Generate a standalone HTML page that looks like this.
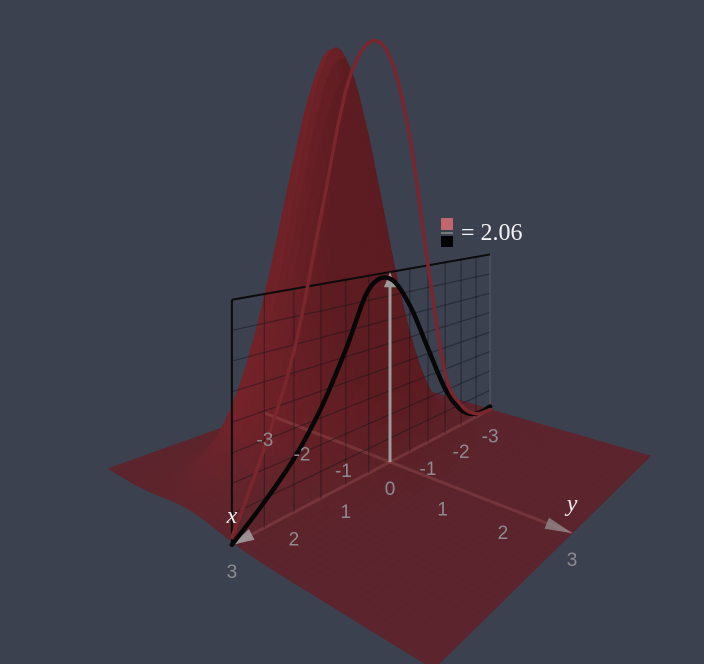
<!DOCTYPE html>
<html><head><meta charset="utf-8"><style>
html,body{margin:0;padding:0;background:#3c4150;}
#wrap{position:relative;width:704px;height:664px;overflow:hidden;background:#3c4150;}
svg{position:absolute;left:0;top:0;}
.tick{font-family:"Liberation Sans",sans-serif;font-size:19px;fill:#8c8c90;text-anchor:middle;}
.axname{font-family:"Liberation Serif",serif;font-style:italic;font-size:24px;fill:#eeeeee;text-anchor:middle;}
</style></head><body>
<div id="wrap">
<svg id="chart" width="704" height="664" viewBox="0 0 704 664">
  <g id="surface"></g>
  <g id="axes"></g>
  <g id="plane"></g>
  <g id="curves"></g>
  <g id="labels"></g>
  <g>
    <rect x="441" y="218" width="12" height="12" fill="#c0686e"/>
    <line x1="441" y1="233" x2="453" y2="233" stroke="#8a8a8a" stroke-width="1.5"/>
    <rect x="441" y="236" width="12" height="11" fill="#000"/>
    <text x="461" y="240" font-family="Liberation Serif, serif" font-size="24" fill="#f2f2f2">= 2.06</text>
  </g>
</svg>
</div>
<script>
// ---- data ----
const curveX = [3, 2.5, 2, 1.5, 1, 0.5, 0, -0.5, -1, -1.5, -2, -2.5, -3];
const blackZ = [0, 0.11, 0.24, 0.42, 0.66, 0.93, 0.965, 0.80, 0.53, 0.26, 0.09, 0.02, 0.02];
const redZ   = [0.03, 0.34, 0.72, 1.32, 1.92, 2.18, 2.13, 1.72, 1.0, 0.35, 0.12, 0.02, 0];
const xTicks = [3, 2, 1, -1, -2, -3];
const yTicks = [3, 2, 1, -1, -2, -3];
const surfPeak = 2.2, surfX0 = 0.3, surfY0 = -0.9, surfSX = 0.95, surfSY = 0.6;

// ---- projection ----
const AX=-70.07, AY=25.3, CX=-0.0749, CY=-0.0619, BX=-13.2, BY=-9.3, ZS=190, OX=390, OY=462;
function P(x,y,z){const w=1+CX*x+CY*y;return [(OX+AX*x+AY*y)/w,(OY+BX*x+BY*y-ZS*z)/w];}
function depth(x,y){return 1+CX*x+CY*y;}
const NS='http://www.w3.org/2000/svg';
function mk(tag,attrs,parent){const e=document.createElementNS(NS,tag);for(const k in attrs)e.setAttribute(k,attrs[k]);parent.appendChild(e);return e;}

// ---- surface ----
function f(x,y){return surfPeak*Math.exp(-((x-surfX0)**2)/(2*surfSX*surfSX)-((y-surfY0)**2)/(2*surfSY*surfSY));}
const surf=document.getElementById('surface');
const N=56, quads=[];
for(let i=0;i<N;i++)for(let j=0;j<N;j++){
  const x0=-3+6*i/N,x1=-3+6*(i+1)/N,y0=-3+6*j/N,y1=-3+6*(j+1)/N;
  const zc=f((x0+x1)/2,(y0+y1)/2);
  const dzx=(f(x1,(y0+y1)/2)-f(x0,(y0+y1)/2))/(x1-x0);
  const dzy=(f((x0+x1)/2,y1)-f((x0+x1)/2,y0))/(y1-y0);
  quads.push({x0,x1,y0,y1,zc,dzx,dzy,d:depth((x0+x1)/2,(y0+y1)/2)});
}
quads.sort((a,b)=>b.d-a.d);
const L=[0.45,-0.35,1];const Ln=Math.hypot(...L);
for(const q of quads){
  const pts=[P(q.x0,q.y0,f(q.x0,q.y0)),P(q.x1,q.y0,f(q.x1,q.y0)),P(q.x1,q.y1,f(q.x1,q.y1)),P(q.x0,q.y1,f(q.x0,q.y1))];
  const n=[-q.dzx,-q.dzy,1];const nn=Math.hypot(...n);
  const dot=(n[0]*L[0]+n[1]*L[1]+n[2]*L[2])/(nn*Ln);
  const flat=1/Ln;
  const t=Math.min(1,q.zc/0.35);
  let r=92+(112-92)*t,g=36+(34-36)*t,b=44+(40-44)*t;
  let s=1+0.3*(dot-flat);
  s=Math.max(0.82,Math.min(1.18,s));
  r=Math.round(Math.min(255,r*s));g=Math.round(g*s);b=Math.round(b*s);
  const c=`rgb(${r},${g},${b})`;
  const p=mk('polygon',{points:pts.map(p=>p[0].toFixed(1)+','+p[1].toFixed(1)).join(' '),fill:c,stroke:c,'stroke-width':'0.6'},surf);
  
  
}

// ---- ground axes ----
const axes=document.getElementById('axes');
function line3(a,b,attrs,parent,name){const p=P(...a),q=P(...b);const e=mk('line',Object.assign({x1:p[0],y1:p[1],x2:q[0],y2:q[1]},attrs),parent);return e;}
line3([3,0,0],[-3,0,0],{stroke:'rgba(200,120,120,0.22)','stroke-width':3},axes,'x-axis-line');
line3([0,-3,0],[0,3,0],{stroke:'rgba(200,120,120,0.22)','stroke-width':3},axes,'y-axis-line');
function arrow(tip,dir,len,parent,name,color){
  const p=P(...tip),b=P(tip[0]-dir[0]*len,tip[1]-dir[1]*len,tip[2]-dir[2]*len);
  const dx=p[0]-b[0],dy=p[1]-b[1],l=Math.hypot(dx,dy),nx=-dy/l*6,ny=dx/l*6;
  const e=mk('polygon',{points:`${p[0]},${p[1]} ${b[0]+nx},${b[1]+ny} ${b[0]-nx},${b[1]-ny}`,fill:color},parent);
  
}
arrow([3,0,0],[1,0,0],0.3,axes,'x-axis-arrow','rgba(170,170,170,0.8)');
arrow([0,3,0],[0,1,0],0.35,axes,'y-axis-arrow','rgba(150,150,150,0.7)');

// ---- slice plane (y=0) ----
const plane=document.getElementById('plane');
for(let k=1;k<12;k++){const x=3-k*0.5;line3([x,0,0],[x,0,1],{stroke:'rgba(20,20,25,0.45)','stroke-width':1.2},plane,'plane-grid-vertical');}
for(let k=1;k<8;k++){const z=k*0.125;line3([3,0,z],[-3,0,z],{stroke:'rgba(20,20,25,0.45)','stroke-width':1.2},plane,'plane-grid-horizontal');}
line3([-3,0,0],[-3,0,1],{stroke:'rgba(90,90,95,0.7)','stroke-width':1.5},plane,'plane-right-edge');
line3([3,0,0],[3,0,1],{stroke:'#0b0b0b','stroke-width':2},plane,'plane-left-edge');
line3([3,0,1],[-3,0,1],{stroke:'#0b0b0b','stroke-width':2},plane,'plane-top-edge');
line3([0,0,0],[0,0,0.95],{stroke:'#9a9a9a','stroke-width':3},plane,'z-axis-line');
arrow([0,0,1],[0,0,1],0.08,plane,'z-axis-arrow','#9a9a9a');

// ---- curves ----
function smoothPath(pts){
  let d=`M${pts[0][0].toFixed(1)},${pts[0][1].toFixed(1)}`;
  for(let i=0;i<pts.length-1;i++){
    const p0=pts[Math.max(0,i-1)],p1=pts[i],p2=pts[i+1],p3=pts[Math.min(pts.length-1,i+2)];
    const c1=[p1[0]+(p2[0]-p0[0])/6,p1[1]+(p2[1]-p0[1])/6],c2=[p2[0]-(p3[0]-p1[0])/6,p2[1]-(p3[1]-p1[1])/6];
    d+=` C${c1[0].toFixed(1)},${c1[1].toFixed(1)} ${c2[0].toFixed(1)},${c2[1].toFixed(1)} ${p2[0].toFixed(1)},${p2[1].toFixed(1)}`;
  }
  return d;
}
const curves=document.getElementById('curves');
const bk=mk('path',{d:smoothPath(curveX.map((x,i)=>P(x,0,blackZ[i]))),fill:'none',stroke:'#070707','stroke-width':4.5,'stroke-linecap':'round'},curves);


const rd=mk('path',{d:smoothPath(curveX.map((x,i)=>P(x,0,redZ[i]))),fill:'none',stroke:'#7a262c','stroke-width':3.5,'stroke-linecap':'round'},curves);



// ---- labels ----
const labels=document.getElementById('labels');
function label(txt,p,cls,dy,name){const t=mk('text',{x:p[0].toFixed(1),y:(p[1]+dy).toFixed(1),class:cls},labels);t.textContent=txt;}
xTicks.forEach(v=>label(String(v),P(v,0,0),'tick',33,'x-tick-label'));
yTicks.forEach(v=>label(String(v),P(0,v,0),'tick',33,'y-tick-label'));
label('0',P(0,0,0),'tick',33,'origin-label');
label('x',P(3,0,0),'axname',-22,'x-axis-title');
label('y',P(0,3,0),'axname',-22,'y-axis-title');
</script>
</body></html>
